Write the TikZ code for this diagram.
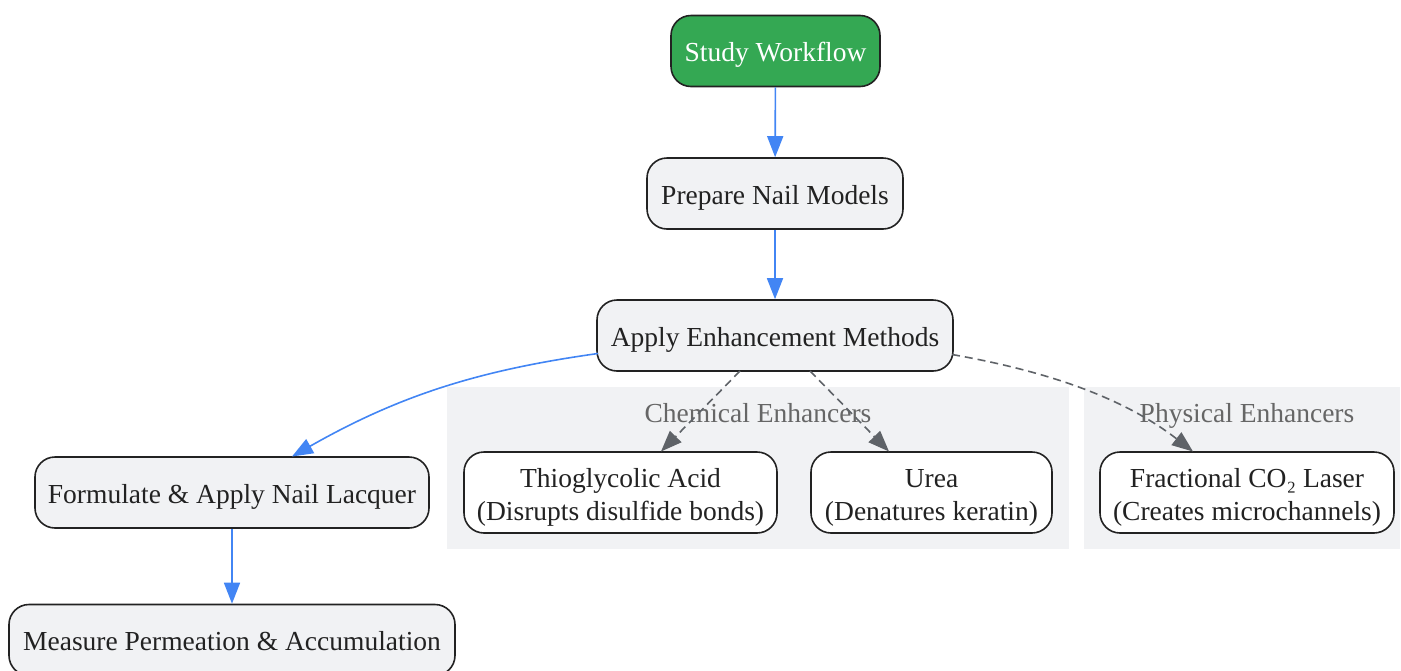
\documentclass[tikz,border=0pt]{standalone}
\usepackage{fontspec}
\setmainfont{Liberation Serif}
\usetikzlibrary{arrows.meta}
\definecolor{startgreen}{HTML}{34A853}
\definecolor{boxfill}{HTML}{F1F2F4}
\definecolor{edgeblue}{HTML}{4285F4}
\definecolor{edgegray}{HTML}{5F6368}
\definecolor{clusterfill}{HTML}{F1F2F4}
\definecolor{labelgray}{HTML}{666666}
\definecolor{borderdark}{HTML}{222222}
\tikzset{
  x=1pt, y=-1pt,
  basebox/.style={draw=borderdark, line width=1.6pt, rounded corners=20pt, align=center,
    font=\fontsize{27.5}{33}\selectfont, text=borderdark, inner sep=0pt, minimum height=71pt,
    text height=25pt, text depth=4pt},
  procbox/.style={basebox, fill=boxfill},
  startbox/.style={basebox, fill=startgreen, text=white},
  methbox/.style={basebox, fill=white, minimum height=81pt, text height=58pt, text depth=3pt},
  cluster/.style={fill=clusterfill, draw=none},
  clusterlabel/.style={font=\fontsize{27.5}{33}\selectfont, text=labelgray, anchor=base, inner sep=0pt},
  blueedge/.style={draw=edgeblue, line width=1.6pt, -{Triangle[length=21pt,width=16pt]}},
  grayedge/.style={draw=edgegray, line width=1.6pt, dash pattern=on 8pt off 5pt, -{Triangle[length=21pt,width=16pt]}}
}
\begin{document}
\begin{tikzpicture}
\useasboundingbox (0,0) rectangle (1401,670);
% clusters
\fill[cluster] (447,387) rectangle (1069,549);
\fill[cluster] (1084,387) rectangle (1400,549);
\node[clusterlabel] (chemlabel) at (758,422) {Chemical Enhancers};
\node[clusterlabel] (physlabel) at (1247,422) {Physical Enhancers};
% nodes
\node[startbox, minimum width=209pt] (start) at (775.5,51) {Study Workflow};
\node[procbox, minimum width=256pt] (prep) at (775,193.5) {Prepare Nail Models};
\node[procbox, minimum width=356pt] (apply) at (775,335.5) {Apply Enhancement Methods};
\node[methbox, minimum width=313pt] (thio) at (620.5,492.5) {Thioglycolic Acid\\(Disrupts disulfide bonds)};
\node[methbox, minimum width=241pt] (urea) at (931.5,492.5) {Urea\\(Denatures keratin)};
\node[methbox, minimum width=294pt] (laser) at (1247,492.5) {Fractional CO₂ Laser\\(Creates microchannels)};
\node[procbox, minimum width=394pt] (form) at (232,492.5) {Formulate \& Apply Nail Lacquer};
\node[procbox, minimum width=446pt] (meas) at (232,640) {Measure Permeation \& Accumulation};
% edges
\coordinate (applyL) at (598,353.5);
\coordinate (formT) at (292,456.5);
\coordinate (applyR) at (952,354.5);
\coordinate (laserT) at (1193,451.5);
\coordinate (applyB1) at (740,371);
\coordinate (thioT) at (661,451.5);
\coordinate (applyB2) at (810,371);
\coordinate (ureaT) at (889,451.5);
\draw[blueedge] (start) -- (prep);
\draw[blueedge] (prep) -- (apply);
\draw[blueedge] (applyL) .. controls (480,370) and (400,395) .. (formT);
\draw[blueedge] (form) -- (meas);
\draw[grayedge] (applyB1) -- (thioT);
\draw[grayedge] (applyB2) -- (ureaT);
\draw[grayedge] (applyR) .. controls (1040,370) and (1120,395) .. (laserT);
\end{tikzpicture}
\end{document}
